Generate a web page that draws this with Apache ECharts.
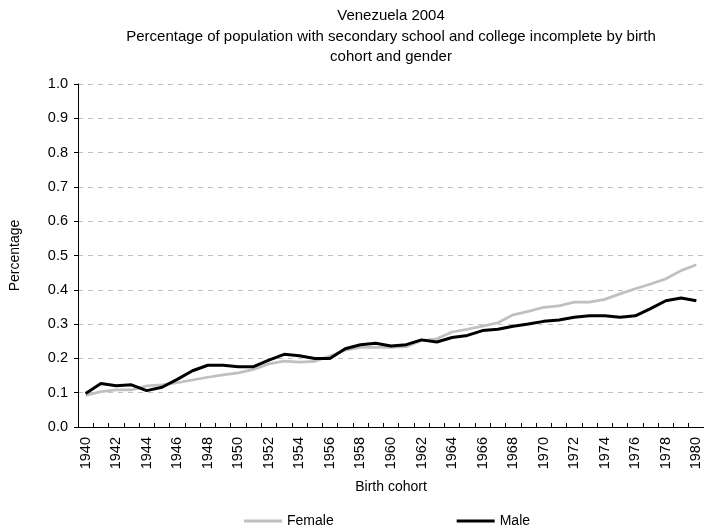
<!DOCTYPE html>
<html>
<head>
<meta charset="utf-8">
<script src="https://cdn.jsdelivr.net/npm/echarts@6/dist/echarts.min.js"></script>
<style>
html,body{margin:0;padding:0;background:#fff;}
#chart{width:704px;height:529px;}
</style>
</head>
<body>
<div id="chart"></div>
<script>
var years = ['1940','1941','1942','1943','1944','1945','1946','1947','1948','1949','1950','1951','1952','1953','1954','1955','1956','1957','1958','1959','1960','1961','1962','1963','1964','1965','1966','1967','1968','1969','1970','1971','1972','1973','1974','1975','1976','1977','1978','1979','1980'];
var female = [0.092,0.103,0.108,0.108,0.120,0.123,0.129,0.137,0.145,0.152,0.158,0.168,0.184,0.192,0.189,0.191,0.207,0.224,0.232,0.232,0.232,0.234,0.252,0.257,0.277,0.285,0.294,0.304,0.327,0.337,0.349,0.353,0.364,0.364,0.372,0.388,0.403,0.417,0.432,0.456,0.473];
var male = [0.098,0.127,0.120,0.123,0.106,0.116,0.139,0.164,0.180,0.180,0.176,0.176,0.195,0.212,0.208,0.200,0.200,0.228,0.240,0.244,0.236,0.240,0.254,0.248,0.261,0.267,0.281,0.285,0.294,0.300,0.308,0.312,0.320,0.324,0.324,0.320,0.324,0.345,0.368,0.376,0.368];
var titleLines = ['Venezuela 2004','Percentage of population with secondary school and college incomplete by birth','cohort and gender'];

var font = 'Liberation Sans, Arial, sans-serif';
var chart = echarts.init(document.getElementById('chart'), null, {renderer:'canvas'});
chart.setOption({
  animation:false,
  backgroundColor:'#fff',
  textStyle:{fontFamily:font},
  title:{
    text:titleLines.join('\n'),
    left:391, top:6, padding:0, textAlign:'center',
    textStyle:{fontFamily:font,fontSize:15,fontWeight:'normal',color:'#000',lineHeight:20.5}
  },
  legend:{
    left:244, top:514, padding:0, itemGap:123, itemWidth:38, itemHeight:10,
    icon:'path://M0,3.6 L38,3.6 L38,6.4 L0,6.4 Z',
    textStyle:{fontFamily:font,fontSize:14,color:'#000'},
    data:[{name:'Female',itemStyle:{color:'#c0c0c0'}},{name:'Male',itemStyle:{color:'#000'}}]
  },
  grid:{left:75,right:0,top:84,bottom:102,containLabel:false},
  xAxis:{
    type:'category', data:years, boundaryGap:true,
    name:'Birth cohort', nameLocation:'middle', nameGap:53,
    nameTextStyle:{fontFamily:font,fontSize:14,color:'#000'},
    axisLine:{lineStyle:{color:'#000',width:1}},
    axisTick:{show:true,interval:0,inside:true,length:4,lineStyle:{color:'#000'}},
    axisLabel:{interval:1,rotate:90,fontFamily:font,fontSize:14.5,color:'#000',margin:10},
    splitLine:{show:false}
  },
  yAxis:{
    type:'value', min:0, max:1, interval:0.1,
    name:'Percentage', nameLocation:'middle', nameGap:56, nameRotate:90,
    nameTextStyle:{fontFamily:font,fontSize:14,color:'#000'},
    axisLine:{show:true,lineStyle:{color:'#000',width:1}},
    axisTick:{show:true,length:4,lineStyle:{color:'#000'}},
    axisLabel:{fontFamily:font,fontSize:14.5,color:'#000',margin:10,formatter:function(v){return v.toFixed(1);}},
    splitLine:{show:true,lineStyle:{color:'#c0c0c0',type:[5,5],width:1}}
  },
  series:[
    {name:'Female',type:'line',data:female,symbol:'none',lineStyle:{color:'#c0c0c0',width:2.75},itemStyle:{color:'#c0c0c0'},z:2},
    {name:'Male',type:'line',data:male,symbol:'none',lineStyle:{color:'#000',width:3},itemStyle:{color:'#000'},z:3}
  ]
});
</script>
</body>
</html>
